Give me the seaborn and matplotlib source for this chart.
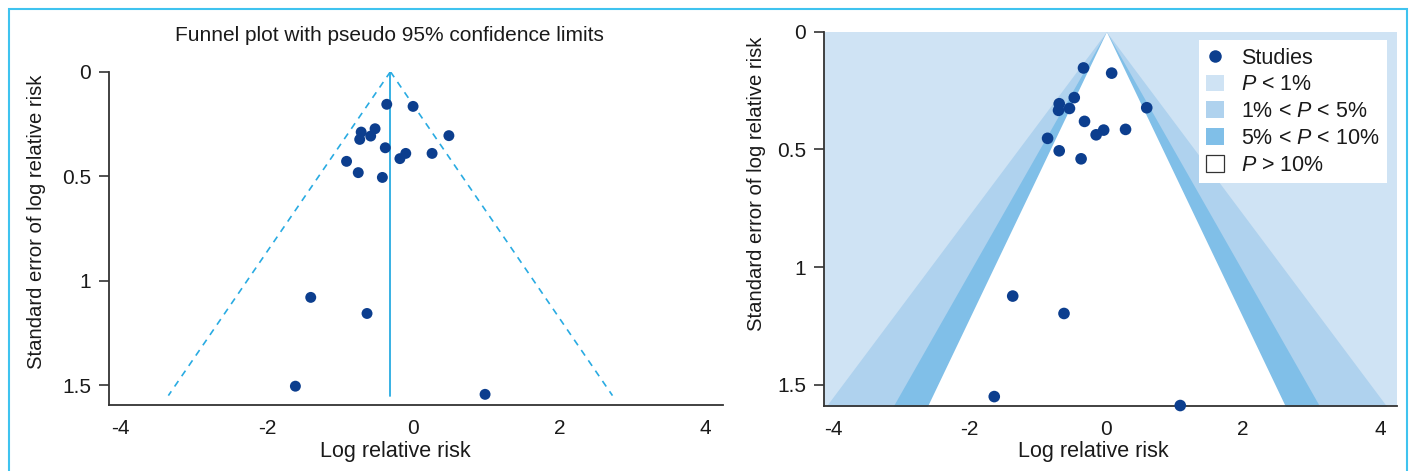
import numpy as np
import pandas as pd
import matplotlib
matplotlib.use("Agg")
import matplotlib.pyplot as plt
import seaborn as sns
from matplotlib.patches import Patch, Rectangle
from matplotlib.lines import Line2D

# ---------------- data ----------------
left_log_rr = [-0.36, 0.00, -0.52, -0.71, -0.58, -0.73, 0.49, -0.38, -0.10,
               -0.18, 0.26, -0.91, -0.75, -0.42, -1.40, -0.63, -1.61, 0.985]
left_se = [0.156, 0.166, 0.273, 0.289, 0.308, 0.324, 0.306, 0.364, 0.391,
           0.416, 0.391, 0.429, 0.483, 0.506, 1.080, 1.157, 1.505, 1.544]
left_pooled = -0.31
left_se_max = 1.55

right_log_rr = [-0.335, 0.077, -0.47, -0.69, -0.54, -0.70, 0.59, -0.32, -0.04,
                -0.15, 0.28, -0.86, -0.69, -0.37, -1.37, -0.62, -1.64, 1.08]
right_se = [0.154, 0.176, 0.280, 0.306, 0.326, 0.334, 0.323, 0.381, 0.418,
            0.438, 0.415, 0.453, 0.506, 0.540, 1.123, 1.197, 1.550, 1.588]

x_ticks = [-4, -2, 0, 2, 4]
x_tick_labels = ["-4", "-2", "0", "2", "4"]
y_ticks = [0, 0.5, 1, 1.5]
y_tick_labels = ["0", "0.5", "1", "1.5"]
band_z = [2.576, 1.960, 1.645]          # 1%, 5%, 10% contours
legend_labels = ["Studies", "$P$ < 1%", "1% < $P$ < 5%", "5% < $P$ < 10%", "$P$ > 10%"]
title_text = "Funnel plot with pseudo 95% confidence limits"
xlabel_text = "Log relative risk"
ylabel_text = "Standard error of log relative risk"

# ---------------- style ----------------
sns.set_style("ticks")
plt.rcParams["font.family"] = ["Liberation Sans", "DejaVu Sans"]
plt.rcParams["mathtext.fontset"] = "custom"
plt.rcParams["mathtext.it"] = "Liberation Sans:italic"
plt.rcParams["mathtext.rm"] = "Liberation Sans"

DOT = "#0c3e8e"
LINE = "#29abe2"
C1 = "#cfe3f4"
C5 = "#afd2ee"
C10 = "#80bfe8"
SPINE = "#333333"
FRAME = "#3fc3ef"
TXT = "#1a1a1a"

W, H = 1412, 471
fig = plt.figure(figsize=(W / 100, H / 100), dpi=100)

def px_axes(l, t, r, b):
    return fig.add_axes([l / W, 1 - b / H, (r - l) / W, (b - t) / H])

axL = px_axes(109, 71.7, 723, 405)
axR = px_axes(824, 31.7, 1397, 406)

df_left = pd.DataFrame({"x": left_log_rr, "se": left_se})
df_right = pd.DataFrame({"x": right_log_rr, "se": right_se})

# ---------------- left panel ----------------
axL.plot([left_pooled, left_pooled], [0, left_se_max], color=LINE, lw=1.3)
for sgn in (-1, 1):
    axL.plot([left_pooled, left_pooled + sgn * band_z[1] * left_se_max], [0, left_se_max],
             color=LINE, lw=1.2, ls=(0, (4, 3.5)))
sns.scatterplot(data=df_left, x="x", y="se", ax=axL, color=DOT, s=62,
                edgecolor="none", zorder=3, legend=False, clip_on=False)
axL.set_xlim(-4.16, 4.24)
axL.set_ylim(1.595, 0)

# ---------------- right panel ----------------
axR.set_facecolor(C1)
se_line = np.array([0, 1.7])
for z, c in zip(band_z, [C5, C10, "white"]):
    axR.fill_betweenx(se_line, -z * se_line, z * se_line, color=c, lw=0, zorder=1)
sns.scatterplot(data=df_right, x="x", y="se", ax=axR, color=DOT, s=70,
                edgecolor="none", zorder=4, legend=False, clip_on=False)
axR.set_xlim(-4.13, 4.25)
axR.set_ylim(1.59, 0)

# ---------------- axes cosmetics ----------------
for ax in (axL, axR):
    sns.despine(ax=ax)
    for sp in ("left", "bottom"):
        ax.spines[sp].set_color(SPINE)
        ax.spines[sp].set_linewidth(1.3)
        ax.spines[sp].set_zorder(3)
    ax.set_xticks(x_ticks)
    ax.set_xticklabels(x_tick_labels)
    ax.set_yticks(y_ticks)
    ax.set_yticklabels(y_tick_labels)
    ax.tick_params(axis="x", length=0, pad=10, labelsize=15, labelcolor=TXT)
    ax.tick_params(axis="y", length=7, width=1.2, color=SPINE, pad=6,
                   labelsize=15, labelcolor=TXT)
    ax.set_xlabel(xlabel_text, fontsize=15.5, color=TXT, va="center")
    ax.set_ylabel(ylabel_text, fontsize=14.6, color=TXT, va="center")

axL.xaxis.set_label_coords(395 / W, 1 - 452 / H, transform=fig.transFigure)
axR.xaxis.set_label_coords(1093 / W, 1 - 452 / H, transform=fig.transFigure)
axL.yaxis.set_label_coords(37 / W, 1 - 222 / H, transform=fig.transFigure)
axR.yaxis.set_label_coords(756 / W, 1 - 184 / H, transform=fig.transFigure)

axL.set_title(title_text, fontsize=15, color=TXT, x=(389.5 - 109) / 614,
              y=1 + (71.7 - 44) / 333.3, va="center")

# ---------------- legend ----------------
handles = [
    Line2D([0], [0], marker="o", color="none", markerfacecolor=DOT,
           markeredgecolor="none", markersize=9, linestyle=""),
    Patch(facecolor=C1, edgecolor="none"),
    Patch(facecolor=C5, edgecolor="none"),
    Patch(facecolor=C10, edgecolor="none"),
    Patch(facecolor="white", edgecolor="#333333", linewidth=0.9),
]
leg = axR.legend(handles, legend_labels, loc="upper right",
                 bbox_to_anchor=(1387 / W, 1 - 40 / H), bbox_transform=fig.transFigure,
                 borderaxespad=0, frameon=True, fancybox=False, framealpha=1,
                 facecolor="white", edgecolor="none", fontsize=15.5,
                 handlelength=0.8, handleheight=0.8, handletextpad=0.8,
                 labelspacing=0.27, borderpad=0.35)
leg.set_zorder(5)
for t in leg.get_texts():
    t.set_color(TXT)

# ---------------- outer frame ----------------
fig.add_artist(Rectangle((9 / W, -0.1), (1407 - 9) / W, (H - 8.7) / H + 0.1,
                         transform=fig.transFigure, fill=False,
                         edgecolor=FRAME, lw=1.5))

fig.savefig("out.png", dpi=100)
